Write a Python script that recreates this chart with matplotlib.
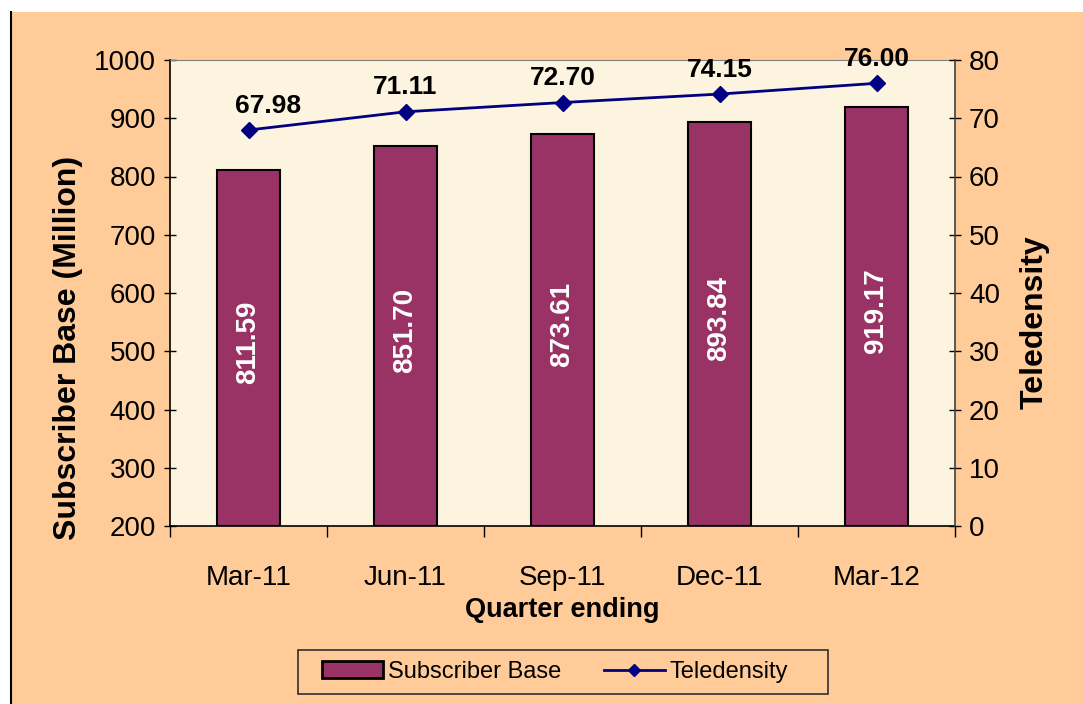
import matplotlib.pyplot as plt
import numpy as np
from matplotlib.patches import Rectangle
from matplotlib.lines import Line2D

plt.rcParams['font.family'] = ['Liberation Sans', 'DejaVu Sans']

quarters = ['Mar-11', 'Jun-11', 'Sep-11', 'Dec-11', 'Mar-12']
subscribers = [811.59, 851.70, 873.61, 893.84, 919.17]
teledensity = [67.98, 71.11, 72.70, 74.15, 76.00]

peach = '#FFCC99'
bar_color = '#993366'
line_color = '#000080'

fig = plt.figure(figsize=(10.83, 7.04), dpi=100)
fig.patch.set_facecolor(peach)

# white strip on top and left like the original screenshot
fig.patches.append(Rectangle((0, 1 - 12 / 704), 1, 12 / 704, transform=fig.transFigure,
                             facecolor='white', edgecolor='none', zorder=0))
fig.patches.append(Rectangle((0, 0), 10 / 1083, 1, transform=fig.transFigure,
                             facecolor='white', edgecolor='none', zorder=0))
fig.lines.append(Line2D([11 / 1083, 11 / 1083], [0, 1 - 12 / 704], transform=fig.transFigure,
                        color='black', lw=1.5))

ax = fig.add_axes([170 / 1083, 1 - 526 / 704, 785 / 1083, 466 / 704])
ax.set_facecolor('#FDF4E0')

x = np.arange(len(quarters))
ax.bar(x, [s - 200 for s in subscribers], bottom=200, width=0.4,
       color=bar_color, edgecolor='black', linewidth=1.5, zorder=2)
for xi, s in zip(x, subscribers):
    ax.text(xi, (200 + s) / 2 + 10, f'{s:.2f}', rotation=90, ha='center', va='center',
            color='white', fontsize=20, fontweight='bold', zorder=3)

ax.set_ylim(200, 1000)
ax.set_xlim(-0.5, len(quarters) - 0.5)
ax.set_yticks(range(200, 1001, 100))
ax.set_xticks(x)
ax.set_xticklabels(quarters, fontsize=20)
ax.set_xticks(np.arange(-0.5, len(quarters)), minor=True)
ax.tick_params(axis='x', which='major', length=0, pad=28)
ax.tick_params(axis='x', which='minor', length=8, width=1, direction='out')
ax.tick_params(axis='y', labelsize=20, length=8, width=1, direction='inout', pad=6)
ax.set_xlabel('Quarter ending', fontsize=19.5, fontweight='bold')
ax.xaxis.set_label_coords(0.5, -(610 - 526) / 466, transform=ax.transAxes)
ax.xaxis.label.set_va('center')
ax.set_ylabel('Subscriber Base (Million)', fontsize=23, fontweight='bold')
ax.yaxis.set_label_coords(-(170 - 68) / 785, 1 - (348 - 60) / 466)
ax.yaxis.label.set_va('center')
for sp in ['left', 'bottom']:
    ax.spines[sp].set_linewidth(1.2)
ax.spines['top'].set_color('#808080')
ax.spines['right'].set_visible(False)

ax2 = ax.twinx()
ax2.plot(x, teledensity, color=line_color, lw=2, marker='D', markersize=8, zorder=4)
for i, (xi, t) in enumerate(zip(x, teledensity)):
    dx = 14 if i == 0 else 0  # first label sits a bit right of its point
    ax2.annotate(f'{t:.2f}', (xi, t), xytext=(dx, 9), textcoords='offset points',
                 ha='center', va='bottom', fontsize=19, fontweight='bold')
ax2.set_ylim(0, 80)
ax2.set_yticks(range(0, 81, 10))
ax2.tick_params(axis='y', labelsize=20, length=8, width=1, direction='inout', pad=6)
ax2.set_ylabel('Teledensity', fontsize=23, fontweight='bold')
ax2.yaxis.set_label_coords(1 + (1035 - 955) / 785, 1 - (322 - 60) / 466)
ax2.yaxis.label.set_va('center')
ax2.spines['right'].set_linewidth(1.2)
ax2.spines['right'].set_color('#404040')
ax2.spines['top'].set_visible(False)
ax2.spines['left'].set_visible(False)
ax2.spines['bottom'].set_visible(False)

# legend box drawn by hand to match the original padding
fig.patches.append(Rectangle((298 / 1083, 1 - 694 / 704), 530 / 1083, 44 / 704,
                             transform=fig.transFigure, facecolor=peach,
                             edgecolor='#303030', lw=1.2, zorder=1))
handles = [Rectangle((0, 0), 1, 1, facecolor=bar_color, edgecolor='black', lw=2),
           Line2D([], [], color=line_color, lw=2, marker='D', markersize=6)]
fig.legend(handles, ['Subscriber Base', 'Teledensity'], loc='center',
           bbox_to_anchor=(555 / 1083, 1 - 672 / 704), ncol=2, fontsize=17,
           frameon=False, handlelength=2.6, handletextpad=0.2, columnspacing=1.8)

fig.savefig('out.png', dpi=100, facecolor=fig.get_facecolor())
